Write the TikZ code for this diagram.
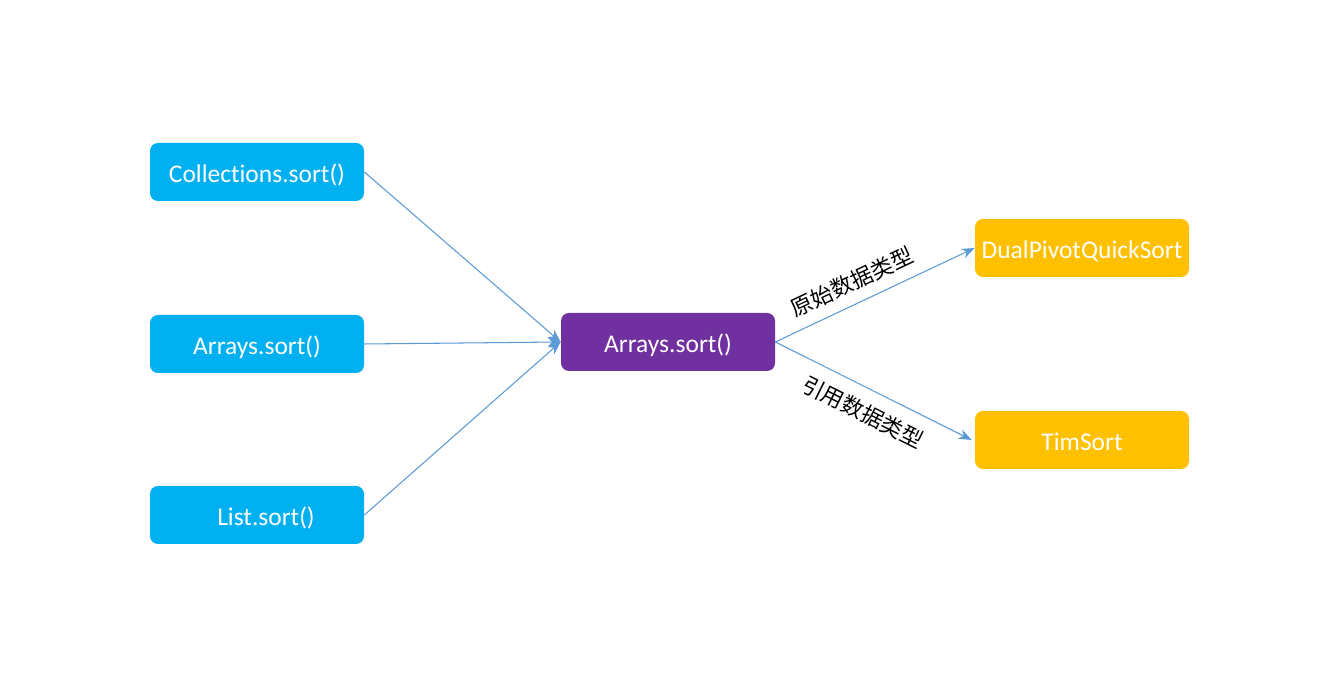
\documentclass[tikz,border=0pt]{standalone}
\usepackage{fontspec}
\setmainfont{Carlito}[Ligatures=NoCommon]
\newfontfamily\cjk{Noto Sans CJK SC}
\usetikzlibrary{arrows.meta}
\definecolor{callblue}{HTML}{00B0F0}
\definecolor{corepurple}{HTML}{7030A0}
\definecolor{algoorange}{HTML}{FFC000}
\definecolor{linkblue}{HTML}{5B9BD5}
\tikzset{
	sortbox/.style={rounded corners=0.16cm, minimum width=4.28cm, minimum height=1.16cm, inner sep=0pt, text=white, font=\fontsize{14.5}{17}\selectfont, text depth=0.04cm, text height=0.45cm},
	flow/.style={draw=linkblue, line width=0.6pt, -{Stealth[length=2.6mm, width=2mm]}},
	typelabel/.style={font=\cjk\fontsize{12.5}{15}\selectfont, text=black}
}

\begin{document}
\begin{tikzpicture}
		%%%%% START %%%%%
		
		\fill[white] (0, 0) rectangle (26.44, 13.52);
		\useasboundingbox (0, 0) rectangle (26.44, 13.52);
		
		\node[sortbox, fill=callblue] (coll) at (5.14, 10.08) {Collections.sort()};
		\node[sortbox, fill=callblue] (arrin) at (5.14, 6.64) {Arrays.sort()};
		\node[sortbox, fill=callblue] (list) at (5.14, 3.22) {\hspace{0.36cm}List.sort()};
		
		\node[sortbox, fill=corepurple] (arr) at (13.36, 6.68) {Arrays.sort()};
		
		\node[sortbox, fill=algoorange] (dual) at (21.64, 8.56) {DualPivotQuickSort};
		\node[sortbox, fill=algoorange] (tim) at (21.64, 4.72) {TimSort};
		
		\draw[flow] (coll.east) -- (arr.west);
		\draw[flow] (arrin.east) -- (arr.west);
		\draw[flow] (list.east) -- (arr.west);
		
		\draw[flow] (arr.east) -- node[pos=0.43, sloped, above=3pt, typelabel] {原始数据类型} (dual.west);
		\draw[flow] (arr.east) -- node[pos=0.5, sloped, below=4pt, typelabel] {引用数据类型} ([xshift=-0.06cm]tim.west);
		
		%%%%% END %%%%%
	\end{tikzpicture}
\end{document}
